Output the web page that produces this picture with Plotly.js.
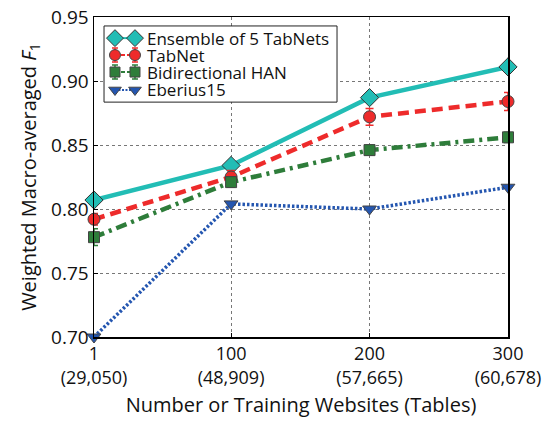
<!DOCTYPE html>
<html><head><meta charset="utf-8">
<script src="https://cdn.plot.ly/plotly-3.0.1.min.js"></script>
<style>body{margin:0;background:#fff}#c{width:552px;height:421px}</style>
</head><body><div id="c"></div>
<script>
const xs = [1, 100, 200, 300];
const tickText = ["1<br>(29,050)", "100<br>(48,909)", "200<br>(57,665)", "300<br>(60,678)"];
const yTicks = [0.70, 0.75, 0.80, 0.85, 0.90, 0.95];
const ensemble = [0.807, 0.834, 0.887, 0.911];
const tabnet = [0.792, 0.825, 0.872, 0.884];
const tabnetErr = [0.0045, 0.005, 0.0065, 0.007];
const han = [0.778, 0.821, 0.846, 0.856];
const hanErr = [0.0065, 0.004, 0.004, 0.004];
const eberius = [0.700, 0.804, 0.800, 0.817];
const names = ["Ensemble of 5 TabNets", "TabNet", "Bidirectional HAN", "Eberius15"];

const styles = [
  {line: {color: '#22bdb5', width: 4.5, dash: 'solid'},
   marker: {symbol: 'diamond', size: 14, color: '#22bdb5', line: {color: '#333', width: 1}}},
  {line: {color: '#ee2b2b', width: 4.5, dash: '11px,6px'},
   marker: {symbol: 'circle', size: 12, color: '#ee2b2b', line: {color: '#444', width: 1}},
   errColor: '#ee2b2b'},
  {line: {color: '#2e7d3a', width: 4.5, dash: '11px,5px,3px,5px'},
   marker: {symbol: 'square', size: 11, color: '#2e7d3a', line: {color: '#444', width: 1}},
   errColor: '#2e7d3a'},
  {line: {color: '#2456b0', width: 3.5, dash: '2.5px,2px'},
   marker: {symbol: 'triangle-down', size: 12, color: '#2456b0', line: {color: '#444', width: 1}}}
];
const series = [ensemble, tabnet, han, eberius];
const errs = [null, tabnetErr, hanErr, null];

const traces = [];
series.forEach((ys, i) => {
  const t = {x: xs, y: ys, name: names[i], mode: 'lines+markers', showlegend: false,
             line: styles[i].line, marker: styles[i].marker, cliponaxis: false};
  if (errs[i]) t.error_y = {type: 'data', array: errs[i], color: styles[i].errColor, thickness: 1.5, width: 4};
  traces.push(t);
});

// manual legend box (drawn in an overlay frame spanning the plot area, 0..1)
const legBoxX = [0.0242, 0.587, 0.587, 0.0242, 0.0242];
const legBoxY = [0.734, 0.734, 0.972, 0.972, 0.734];
traces.push({x: legBoxX, y: legBoxY, xaxis: 'x2', yaxis: 'y2', mode: 'lines', fill: 'toself',
             fillcolor: '#ffffff', line: {color: '#222', width: 1}, showlegend: false, hoverinfo: 'skip'});
const legRows = [0.934, 0.881, 0.828, 0.772];
const legX = [0.0507, 0.099];
const annotations = [];
series.forEach((ys, i) => {
  const t = {x: legX, y: [legRows[i], legRows[i]], xaxis: 'x2', yaxis: 'y2', mode: 'lines+markers',
             showlegend: false, hoverinfo: 'skip',
             line: Object.assign({}, styles[i].line, {width: 2, dash: i === 0 ? 'solid' : (i === 3 ? '2px,1.5px' : '4px,2px')}),
             marker: Object.assign({}, styles[i].marker, {size: styles[i].marker.size - 1})};
  if (errs[i]) t.error_y = {type: 'data', array: [0.022, 0.022], color: styles[i].errColor, thickness: 1.5, width: 3};
  traces.push(t);
  annotations.push({xref: 'paper', yref: 'paper', x: 0.124, y: legRows[i], xanchor: 'left', yanchor: 'middle',
                    text: names[i], showarrow: false, font: {size: 17}});
});

const font = {family: '"Open Sans", sans-serif', color: '#111', size: 19};
const layout = {
  width: 552, height: 421,
  margin: {l: 94, r: 44, t: 17, b: 84},
  paper_bgcolor: '#fff', plot_bgcolor: '#fff',
  font: font,
  showlegend: false,
  annotations: annotations,
  xaxis: {range: [1, 300], tickvals: xs, ticktext: tickText, tickfont: {size: 18},
          showline: true, linecolor: '#000', linewidth: 1.5, mirror: true,
          showgrid: true, gridcolor: '#777', griddash: 'dot', gridwidth: 1,
          ticks: 'inside', ticklen: 4, tickcolor: '#000', zeroline: false,
          title: {text: 'Number or Training Websites (Tables)', font: {size: 20}, standoff: 10}},
  yaxis: {range: [0.70, 0.95], tickvals: yTicks, tickformat: '.2f',
          showline: true, linecolor: '#000', linewidth: 1.5, mirror: true,
          showgrid: true, gridcolor: '#777', griddash: 'dot', gridwidth: 1,
          ticks: 'inside', ticklen: 4, tickcolor: '#000', zeroline: false,
          title: {text: 'Weighted Macro-averaged <i>F</i><sub>1</sub>', font: {size: 20}, standoff: 9}},
  xaxis2: {range: [0, 1], overlaying: 'x', visible: false, fixedrange: true},
  yaxis2: {range: [0, 1], overlaying: 'y', visible: false, fixedrange: true}
};
Plotly.newPlot('c', traces, layout, {displayModeBar: false, staticPlot: true});
</script></body></html>
